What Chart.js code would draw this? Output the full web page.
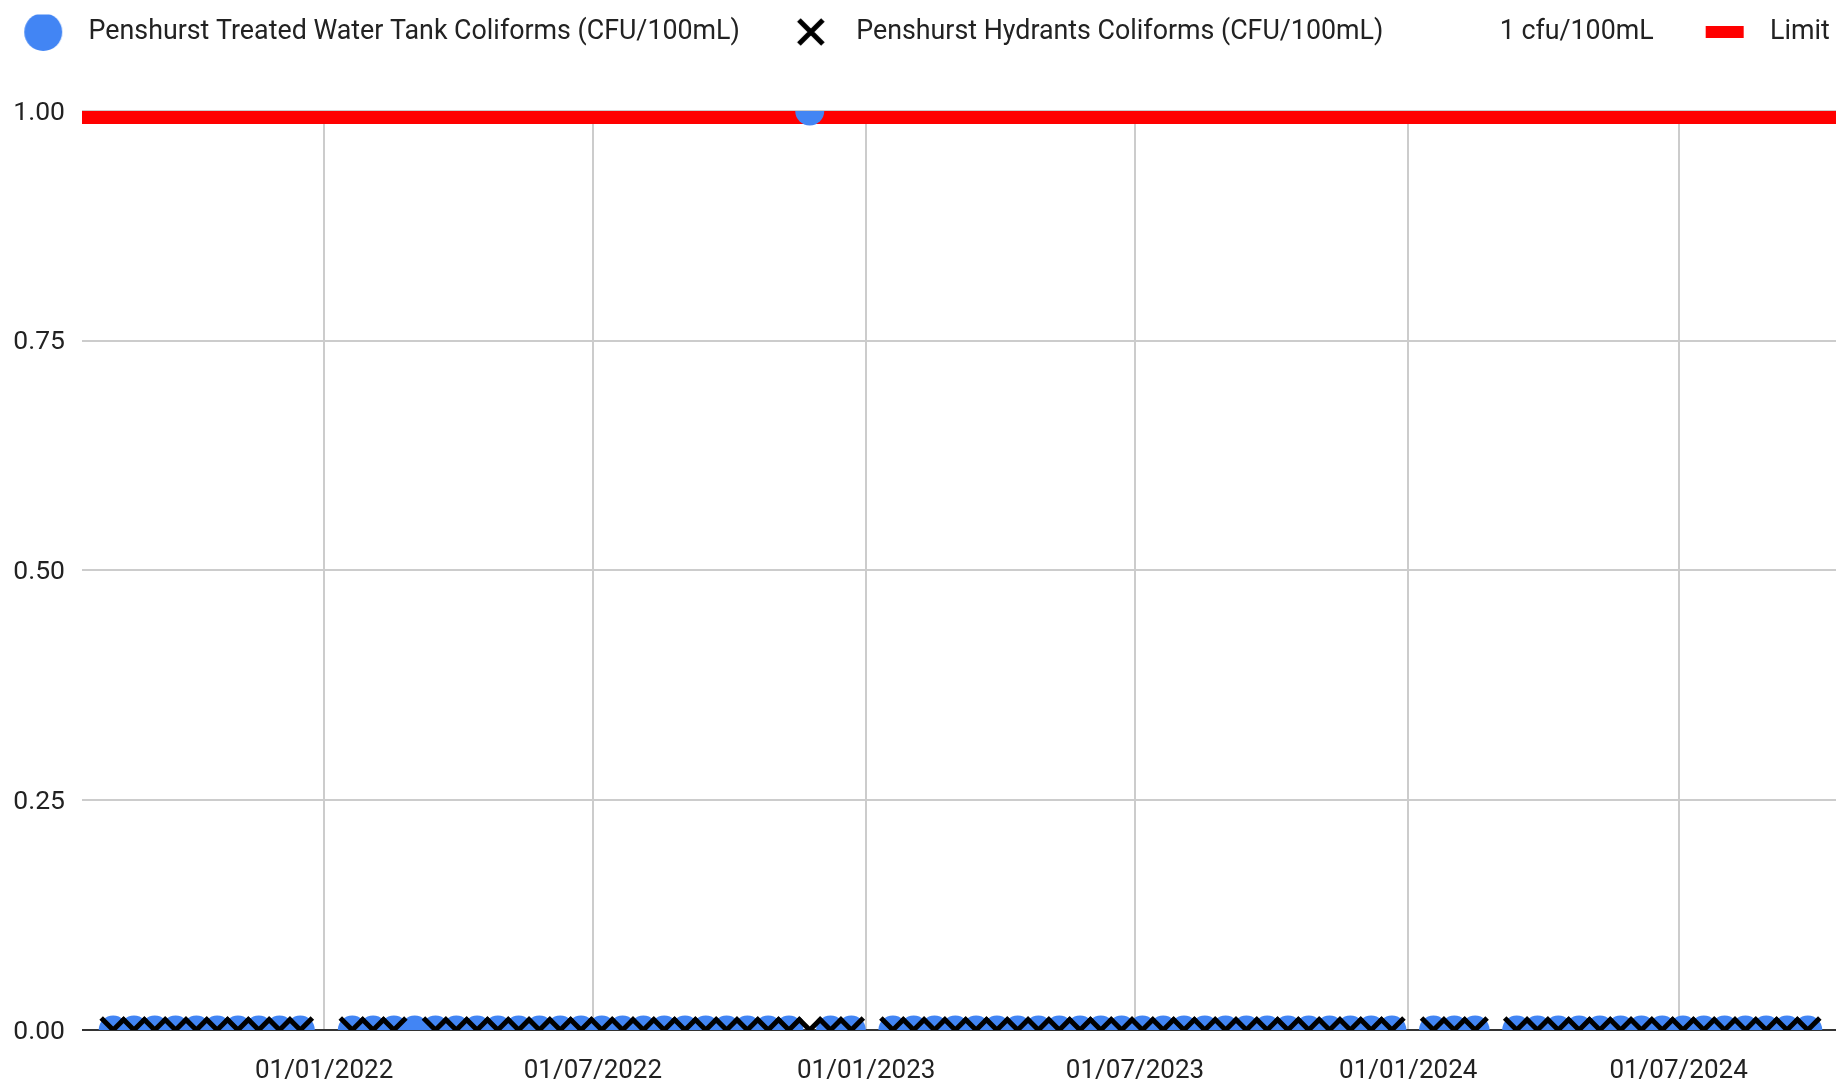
<!DOCTYPE html>
<html>
<head>
<meta charset="utf-8">
<script src="https://cdn.jsdelivr.net/npm/chart.js@4.4.1/dist/chart.umd.min.js"></script>
<style>
  html, body { margin: 0; padding: 0; background: #ffffff; }
  #wrap { width: 1843px; height: 1090px; position: relative; }
</style>
</head>
<body>
<div id="wrap"><canvas id="c" width="1843" height="1090"></canvas></div>
<script>
// ---- DATA ----
const sampleDates = [
  '2021-08-12','2021-08-26','2021-09-09','2021-09-23','2021-10-07','2021-10-21','2021-11-04','2021-11-18','2021-12-02','2021-12-16',
  '2022-01-20','2022-02-03','2022-02-17','2022-03-03','2022-03-17','2022-03-31','2022-04-14','2022-04-28','2022-05-12','2022-05-26',
  '2022-06-09','2022-06-23','2022-07-07','2022-07-21','2022-08-04','2022-08-18','2022-09-01','2022-09-15','2022-09-29','2022-10-13',
  '2022-10-27','2022-11-10','2022-11-24','2022-12-08','2022-12-22',
  '2023-01-19','2023-02-02','2023-02-16','2023-03-02','2023-03-16','2023-03-30','2023-04-13','2023-04-27','2023-05-11','2023-05-25',
  '2023-06-08','2023-06-22','2023-07-06','2023-07-20','2023-08-03','2023-08-17','2023-08-31','2023-09-14','2023-09-28','2023-10-12',
  '2023-10-26','2023-11-09','2023-11-23','2023-12-07','2023-12-21',
  '2024-01-18','2024-02-01','2024-02-15',
  '2024-03-14','2024-03-28','2024-04-11','2024-04-25','2024-05-09','2024-05-23','2024-06-06','2024-06-20','2024-07-04','2024-07-18',
  '2024-08-01','2024-08-15','2024-08-29','2024-09-12','2024-09-26'
];
const tankValues = [
  0,0,0,0,0,0,0,0,0,0,
  0,0,0,0,0,0,0,0,0,0,
  0,0,0,0,0,0,0,0,0,0,
  0,0,1,0,0,
  0,0,0,0,0,0,0,0,0,0,
  0,0,0,0,0,0,0,0,0,0,
  0,0,0,0,0,
  0,0,0,
  0,0,0,0,0,0,0,0,0,0,
  0,0,0,0,0
];
const hydrantValues = [
  0,0,0,0,0,0,0,0,0,0,
  0,0,0,null,0,0,0,0,0,0,
  0,0,0,0,0,0,0,0,0,0,
  0,0,0,0,0,
  0,0,0,0,0,0,0,0,0,0,
  0,0,0,0,0,0,0,0,0,0,
  0,0,0,0,0,
  0,0,0,
  0,0,0,0,0,0,0,0,0,0,
  0,0,0,0,0
];
const limitDates = ['2021-07-22', '2024-10-15'];
const limitValues = [1, 1];
const guideValues = [1, 1];
const seriesNames = [
  'Penshurst Treated Water Tank Coliforms (CFU/100mL)',
  'Penshurst Hydrants Coliforms (CFU/100mL)',
  '1 cfu/100mL',
  'Limit'
];
const tickDates = ['2022-01-01','2022-07-01','2023-01-01','2023-07-01','2024-01-01','2024-07-01'];
const tickLabels = ['01/01/2022','01/07/2022','01/01/2023','01/07/2023','01/01/2024','01/07/2024'];
const yTicks = [0, 0.25, 0.5, 0.75, 1];

// ---- helpers ----
const t = d => Date.parse(d + 'T00:00:00Z');
const pts = (dates, vals) => dates.map((d, i) => ({ x: t(d), y: vals[i] }));

const FAMILY = 'Roboto, "Noto Sans", sans-serif';
const LEGEND_FONT = { family: FAMILY, size: 26.8 };
const TICK_FONT = { family: FAMILY, size: 26 };
const TEXT = '#222222';

// legend marker images (box width 99, marker centred 67px in)
const BOX_W = 99, MARK_X = 67, BOX_H = 40;
function marker(draw) {
  const c = document.createElement('canvas');
  c.width = BOX_W; c.height = BOX_H;
  const g = c.getContext('2d');
  draw(g, MARK_X, BOX_H / 2);
  return c;
}
const legendMarkers = [
  marker((g, x, y) => { g.fillStyle = '#4285f4'; g.beginPath(); g.arc(x, y, 19, 0, Math.PI * 2); g.fill(); }),
  marker((g, x, y) => { g.strokeStyle = '#000'; g.lineWidth = 5; g.lineCap = 'butt'; g.beginPath();
    g.moveTo(x - 12, y - 12); g.lineTo(x + 12, y + 12); g.moveTo(x + 12, y - 12); g.lineTo(x - 12, y + 12); g.stroke(); }),
  marker(() => {}),
  marker((g, x, y) => { g.fillStyle = '#ff0000'; g.fillRect(x - 19, y - 6, 38, 12); })
];

const legendGap = {
  id: 'legendGap',
  afterInit(chart) {
    const lg = chart.legend;
    const fit = lg.fit;
    lg.fit = function () { fit.call(this); this.height += 55.5; };
  }
};

const LEFT_PAD = -30;

const chart = new Chart(document.getElementById('c'), {
  type: 'line',
  plugins: [legendGap],
  data: {
    datasets: [
      {
        label: seriesNames[0],
        data: pts(sampleDates, tankValues),
        showLine: false,
        pointStyle: 'circle',
        pointRadius: 14.5,
        pointHoverRadius: 14.5,
        pointBackgroundColor: '#4285f4',
        pointBorderColor: '#4285f4',
        pointBorderWidth: 0,
        backgroundColor: '#4285f4',
        borderColor: '#4285f4',
        clip: 0,
        order: 1
      },
      {
        label: seriesNames[1],
        data: pts(sampleDates, hydrantValues),
        showLine: false,
        pointStyle: 'crossRot',
        pointRadius: 17,
        pointHoverRadius: 17,
        pointBackgroundColor: '#000000',
        pointBorderColor: '#000000',
        pointBorderWidth: 5,
        backgroundColor: '#000000',
        borderColor: '#000000',
        clip: 0,
        order: 0
      },
      {
        label: seriesNames[2],
        data: pts(limitDates, guideValues),
        showLine: true,
        borderWidth: 0,
        borderColor: 'rgba(0,0,0,0)',
        pointRadius: 0,
        clip: 0,
        order: 2
      },
      {
        label: seriesNames[3],
        data: pts(limitDates, limitValues),
        showLine: true,
        borderColor: '#ff0000',
        backgroundColor: '#ff0000',
        borderWidth: 26,
        borderCapStyle: 'butt',
        pointRadius: 0,
        pointHoverRadius: 0,
        clip: 0,
        order: 3
      }
    ]
  },
  options: {
    responsive: false,
    animation: false,
    devicePixelRatio: 1,
    layout: { autoPadding: false, padding: { left: LEFT_PAD, right: 7, top: 14.6, bottom: 4 } },
    plugins: {
      tooltip: { enabled: false },
      legend: {
        display: true,
        position: 'top',
        align: 'center',
        labels: {
          usePointStyle: true,
          pointStyleWidth: BOX_W,
          boxHeight: 27,
          padding: 4,
          color: TEXT,
          font: LEGEND_FONT,
          generateLabels: (ch) => ch.data.datasets.map((ds, i) => ({
            text: ds.label,
            fontColor: TEXT,
            fillStyle: 'rgba(0,0,0,0)',
            strokeStyle: 'rgba(0,0,0,0)',
            lineWidth: 0,
            hidden: false,
            pointStyle: legendMarkers[i],
            datasetIndex: i
          }))
        }
      }
    },
    scales: {
      x: {
        type: 'linear',
        min: t(limitDates[0]),
        max: t(limitDates[1]),
        afterBuildTicks: (s) => { s.ticks = tickDates.map(d => ({ value: t(d) })); },
        afterFit: (s) => { s.height = 56; },
        ticks: {
          autoSkip: false,
          maxRotation: 0,
          minRotation: 0,
          padding: 26,
          color: TEXT,
          font: TICK_FONT,
          callback: (v) => { const i = tickDates.findIndex(d => t(d) === v); return i >= 0 ? tickLabels[i] : ''; }
        },
        grid: { color: '#cccccc', lineWidth: 2, drawTicks: false },
        border: { display: false }
      },
      y: {
        type: 'linear',
        min: 0,
        max: 1,
        afterBuildTicks: (s) => { s.ticks = yTicks.map(v => ({ value: v })); },
        afterFit: (s) => { s.width = 82 - LEFT_PAD; },
        ticks: {
          padding: 17,
          labelOffset: 2,
          color: TEXT,
          font: { family: FAMILY, size: 26.5 },
          callback: (v) => Number(v).toFixed(2)
        },
        grid: {
          color: (c) => (c.tick && c.tick.value === 0) ? '#333333' : '#cccccc',
          lineWidth: 2,
          drawTicks: false
        },
        border: { display: false }
      }
    }
  }
});
</script>
</body>
</html>
